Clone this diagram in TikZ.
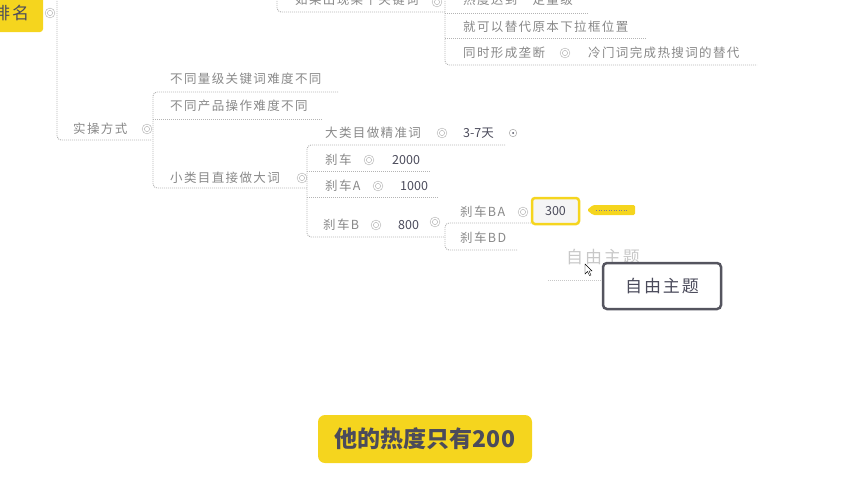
\documentclass[tikz,border=0pt]{standalone}
\usepackage{fontspec}
\newfontfamily\cjk[LetterSpace=11]{Noto Sans CJK SC}
\newfontfamily\cjkw{Noto Sans CJK SC}
\definecolor{yel}{HTML}{F5D51E}
\definecolor{dark}{HTML}{4B4B5B}
\definecolor{txtgray}{HTML}{888888}
\definecolor{lngray}{HTML}{B4B4B4}
\definecolor{faint}{HTML}{C8C8C8}
\definecolor{boxdark}{HTML}{55555F}
\tikzset{
  t/.style={anchor=west, inner sep=0pt, text=txtgray, font=\cjk\fontsize{12.5}{14}\selectfont},
  num/.style={t, text=dark, font=\cjkw\fontsize{12.5}{14}\selectfont},
  ln/.style={draw=lngray, line width=0.9pt, dash pattern=on 1pt off 1pt, rounded corners=4pt},
  mk/.style={circle, draw=lngray, double=white, double distance=1.4pt, line width=0.6pt, minimum size=7.5pt, inner sep=0pt},
}
\begin{document}
\begin{tikzpicture}[x=1pt,y=-1pt]
\useasboundingbox (0,0) rectangle (852,480);
\clip (0,0) rectangle (852,480);

% left root box
\fill[yel, rounded corners=3pt] (-10,-10) rectangle (43,32);
\node[anchor=west, inner sep=0pt, text=dark, font=\cjk\fontsize{17}{18}\selectfont] (pm) at (-7,13) {排名};
\node[mk] (pmm) at (50,13) {};

% top group
\node[t] (kw) at (295,0) {如果出现某个关键词};
\node[mk] (kwm) at (437,2) {};
\node[t] (hot) at (463,0) {热度达到一定量级};
\node[t] (rep) at (463,27) {就可以替代原本下拉框位置};
\node[t] (mono) at (463,53) {同时形成垄断};
\node[mk] (monom) at (565,53) {};
\node[t] (cold) at (588,53) {冷门词完成热搜词的替代};
\draw[ln] (277,-5) -- (277,12) -- (445,12);
\draw[ln] (445,-5) -- (445,65) -- (757,65);
\draw[ln] (445,13) -- (588,13);
\draw[ln] (445,38) -- (647,38);

% left trunk
\draw[ln] (57,-5) -- (57,140) -- (152,140);
\node[t] (sc) at (73,129) {实操方式};
\node[mk] (scm) at (147,129) {};

% children of 实操方式
\node[t] (a1) at (170,79) {不同量级关键词难度不同};
\node[t] (a2) at (170,106) {不同产品操作难度不同};
\node[t] (a3) at (170,178) {小类目直接做大词};
\node[mk] (a3m) at (302,178) {};
\draw[ln] (338,92) -- (153,92) -- (153,188) -- (307,188);
\draw[ln] (153,119) -- (323,119);

% children of 小类目直接做大词
\node[t] (b1) at (325,133) {大类目做精准词};
\node[mk] (b1m) at (442,133) {};
\node[num] (b1v) at (463,133) {3-7天};
\node[circle, draw=lngray, line width=0.6pt, minimum size=7.5pt, inner sep=0pt] (b1c) at (513,133) {};
\fill[dark] (b1c) circle (1pt);
\draw[ln] (505,145) -- (307,145) -- (307,237) -- (445,237);

\node[t] (c1) at (325,160) {刹车};
\node[mk] (c1m) at (369,160) {};
\node[num] (c1v) at (392,160) {2000};
\draw[ln] (307,171) -- (430,171);

\node[t] (c2) at (325,186) {刹车A};
\node[mk] (c2m) at (378,186) {};
\node[num] (c2v) at (400,186) {1000};
\draw[ln] (307,197) -- (438,197);

\node[t] (c3) at (323,225) {刹车B};
\node[mk] (c3m) at (376,225) {};
\node[num] (c3v) at (398,225) {800};
\node[mk] (c3n) at (435,222) {};

\node[t] (d1) at (460,212) {刹车BA};
\node[mk] (d1m) at (523,212) {};
\node[t] (d2) at (460,238) {刹车BD};
\node[draw=yel, line width=2.5pt, rounded corners=3pt, fill=black!4, minimum width=47pt, minimum height=26pt, inner sep=0pt, text=dark, font=\cjkw\fontsize{12.5}{14}\selectfont] (v300) at (555.5,211) {300};
\draw[ln] (v300.west |- 0,223) -- (445,223) -- (445,250) -- (517,250);

% callout
\fill[yel, rounded corners=1.5pt] (587,210) -- (593,205) -- (635,205) -- (635,215) -- (593,215) -- cycle;
\draw[dark!70, line width=0.8pt, dash pattern=on 1pt off 1.5pt] (596,210) -- (628,210);

% free topics
\node[anchor=west, inner sep=0pt, text=faint, font=\cjk\fontsize{17}{18}\selectfont] (ft1) at (566,257) {自由主题};
\draw[ln, draw=faint] (548,280) -- (605,280);
\node[draw=boxdark, line width=2.5pt, rounded corners=4pt, fill=white, minimum width=118pt, minimum height=46pt, inner sep=0pt, text=dark, font=\cjk\fontsize{17}{18}\selectfont] (ft2) at (662,286) {自由主题};
\draw[fill=white, draw=black, line width=0.4pt] (585,264) -- (585,274) -- (587.5,271.5) -- (589.5,275.5) -- (591,275) -- (589,271) -- (592,271) -- cycle;

% caption
\node[fill=yel, rounded corners=7pt, minimum width=214pt, minimum height=48pt, inner sep=0pt, text=dark, font=\cjkw\bfseries\fontsize{23}{25}\selectfont] (cap) at (425,439) {他的热度只有200};
\end{tikzpicture}
\end{document}
